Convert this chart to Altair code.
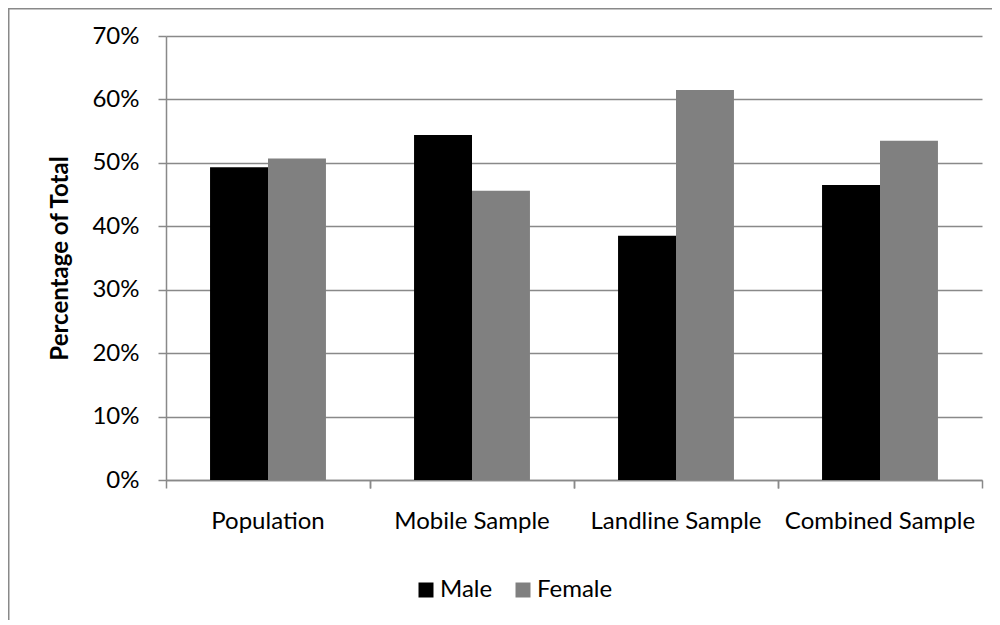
import altair as alt
import pandas as pd

categories = ["Population", "Mobile Sample", "Landline Sample", "Combined Sample"]
series = ["Male", "Female"]
male = [0.493, 0.544, 0.385, 0.465]
female = [0.507, 0.456, 0.615, 0.535]
y_ticks = [0, 0.1, 0.2, 0.3, 0.4, 0.5, 0.6, 0.7]
colors = ["#000000", "#808080"]

rows = []
for c, m, f in zip(categories, male, female):
    rows.append({"Category": c, "Sex": "Male", "Share": m})
    rows.append({"Category": c, "Sex": "Female", "Share": f})
df = pd.DataFrame(rows)

FONT = "Lato"
GRAY = "#898989"
W, H = 816, 444

xscale = alt.Scale(domain=categories, paddingInner=0, paddingOuter=0)
yscale = alt.Scale(domain=[0, 0.7], nice=False)

frame = alt.Chart(pd.DataFrame({"k": [0]})).mark_rect(
    fill="transparent", stroke=GRAY, strokeWidth=1.5
).encode(
    x=alt.value(-157.25), x2=alt.value(1000), y=alt.value(-27.25), y2=alt.value(800)
)

bars = alt.Chart(df).mark_bar().encode(
    x=alt.X(
        "Category:N", scale=xscale, sort=categories,
        axis=alt.Axis(
            title=None, orient="bottom", bandPosition=0,
            labelAngle=0, tickSize=8, tickColor=GRAY, tickWidth=1.5,
            domainColor=GRAY, domainWidth=1.5, labelPadding=21, labelLimit=400,
            labelFontSize=24, labelFont=FONT, labelColor="#000000", grid=False,
        ),
    ),
    xOffset=alt.XOffset(
        "Sex:N", sort=series, scale=alt.Scale(domain=series, paddingOuter=0.76, paddingInner=0)
    ),
    y=alt.Y(
        "Share:Q", scale=yscale,
        axis=alt.Axis(
            values=y_ticks, format=".0%", title="Percentage of Total",
            titleFont=FONT, titleFontSize=24, titleFontWeight="bold", titleColor="#000000",
            titlePadding=19, labelFont=FONT, labelFontSize=24, labelColor="#000000",
            labelPadding=19, tickSize=8, tickColor=GRAY, tickWidth=1.5,
            domainColor=GRAY, domainWidth=1.5, gridColor=GRAY, gridWidth=1.5,
        ),
    ),
    color=alt.Color(
        "Sex:N", sort=series, scale=alt.Scale(domain=series, range=colors),
        legend=alt.Legend(
            title=None, orient="none", legendX=248, legendY=542, direction="horizontal",
            symbolType="square", symbolSize=225, symbolStrokeWidth=0,
            labelFont=FONT, labelFontSize=24, labelColor="#000000", labelOffset=2,
            columnPadding=18, padding=0,
        ),
    ),
)

ticks_layer = alt.Chart(df).mark_point(opacity=0).encode(
    x=alt.X(
        "Category:N", scale=xscale, sort=categories,
        axis=alt.Axis(
            title=None, orient="bottom", bandPosition=1, labels=False, domain=False,
            tickSize=8, tickColor=GRAY, tickWidth=1.5, grid=False,
        ),
    ),
)

chart = (
    alt.layer(frame, bars, ticks_layer)
    .resolve_axis(x="independent")
    .properties(
        width=W, height=H,
        autosize=alt.AutoSizeParams(type="none"),
        padding={"left": 158, "top": 28, "right": 10, "bottom": 140},
    )
    .configure(font=FONT)
    .configure_view(strokeWidth=0)
)

chart.save("out.html", embed_options={"renderer": "svg", "actions": False})
